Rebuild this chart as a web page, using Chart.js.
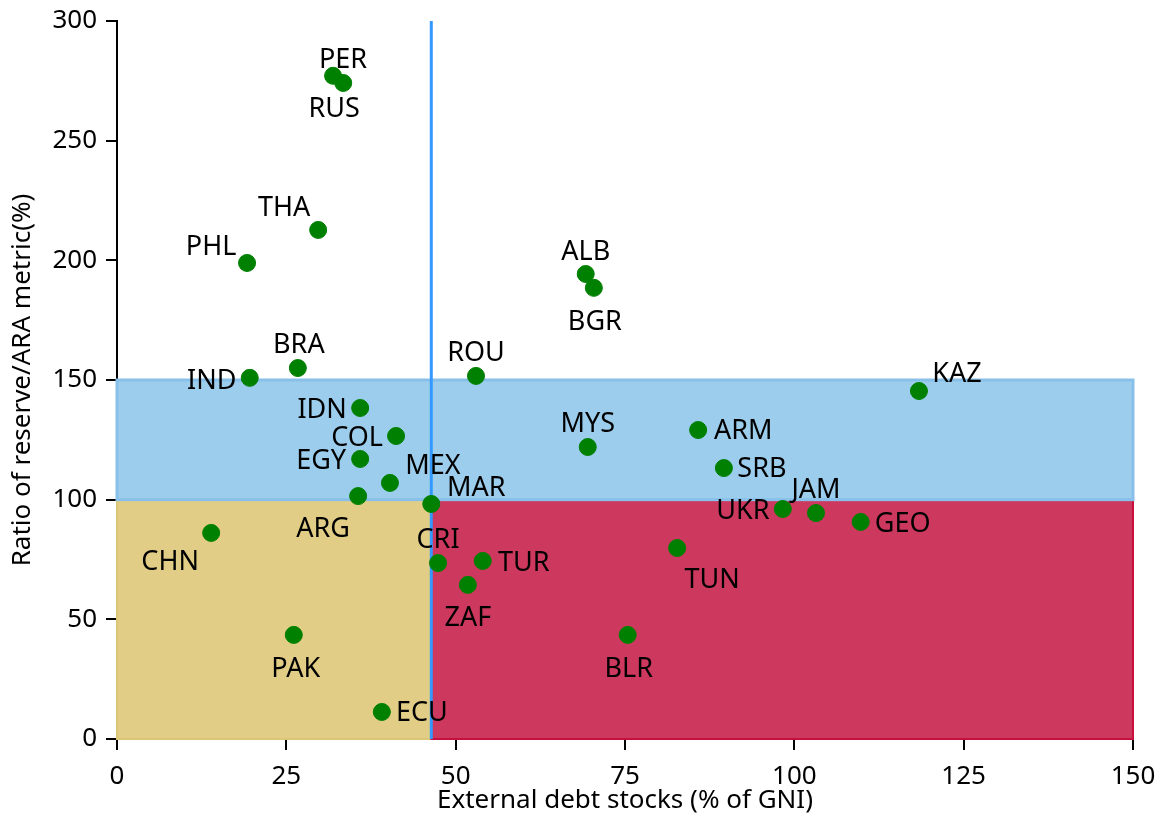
<!DOCTYPE html>
<html>
<head>
<meta charset="utf-8">
<script src="https://cdn.jsdelivr.net/npm/chart.js@4.4.0/dist/chart.umd.min.js"></script>
<style>
  html, body { margin: 0; padding: 0; background: #fff; }
  #wrap { width: 1164px; height: 816px; }
</style>
</head>
<body>
<div id="wrap"><canvas id="chart"></canvas></div>
<script>
const countries = ["PER","RUS","THA","PHL","ALB","BGR","BRA","IND","ROU","KAZ","IDN","COL","ARM","MYS","EGY","SRB","MEX","ARG","MAR","UKR","JAM","GEO","CHN","TUN","CRI","TUR","ZAF","PAK","BLR","ECU"];
const debtStocks = [31.9, 33.4, 29.7, 19.2, 69.2, 70.4, 26.7, 19.6, 53.0, 118.4, 35.9, 41.2, 85.8, 69.5, 35.9, 89.6, 40.3, 35.6, 46.4, 98.3, 103.2, 109.8, 13.9, 82.7, 47.4, 54.0, 51.8, 26.1, 75.4, 39.1];
const reserveRatio = [277.1, 274.1, 212.7, 198.9, 194.3, 188.5, 155.0, 150.9, 151.7, 145.4, 138.3, 126.6, 129.1, 122.0, 117.0, 113.2, 107.0, 101.5, 98.2, 96.1, 94.4, 90.7, 86.1, 79.8, 73.5, 74.4, 64.4, 43.5, 43.5, 11.3];

const debtThreshold = 46.4;
const lowBand = 100;
const highBand = 150;

// where each country label sits, in px from its point
const labelOffsets = {
  PER: [10, -15], RUS: [-9, 26], THA: [-34, -22], PHL: [-36, -16], ALB: [0, -22],
  BGR: [1, 34], BRA: [1, -23], IND: [-38, 3], ROU: [0, -23], KAZ: [38, -17],
  IDN: [-38, 2], COL: [-39, 2], ARM: [45, 1], MYS: [0, -23], EGY: [-39, 2],
  SRB: [38, 1], MEX: [43, -17], ARG: [-35, 33], MAR: [45, -16], UKR: [-40, 2],
  JAM: [0, -23], GEO: [42, 2], CHN: [-41, 29], TUN: [35, 32], CRI: [0, -23],
  TUR: [41, 2], ZAF: [0, 33], PAK: [2, 34], BLR: [1, 34], ECU: [40, 1]
};

const FONT = "'Noto Sans', 'Open Sans', sans-serif";

const zonesPlugin = {
  id: "zones",
  beforeDatasetsDraw(chart) {
    const { ctx, scales: { x, y } } = chart;
    const x0 = x.getPixelForValue(0), x1 = x.getPixelForValue(150), xt = x.getPixelForValue(debtThreshold);
    const y0 = y.getPixelForValue(0), yl = y.getPixelForValue(lowBand), yh = y.getPixelForValue(highBand);
    ctx.save();
    // yellow
    ctx.fillStyle = "#e1cd85";
    ctx.fillRect(x0, yl, xt - x0, y0 - yl);
    ctx.strokeStyle = "#dcc676";
    ctx.lineWidth = 2;
    ctx.strokeRect(x0, yl, xt - x0, y0 - yl);
    // red
    ctx.fillStyle = "#cc385e";
    ctx.fillRect(xt, yl, x1 - xt, y0 - yl);
    ctx.strokeStyle = "#c8103e";
    ctx.strokeRect(xt, yl, x1 - xt, y0 - yl);
    // blue
    ctx.fillStyle = "#9ccdec";
    ctx.fillRect(x0, yh, x1 - x0, yl - yh);
    ctx.strokeStyle = "#88c0ea";
    ctx.lineWidth = 3;
    ctx.strokeRect(x0, yh, x1 - x0, yl - yh);
    // threshold line
    ctx.strokeStyle = "#3399ff";
    ctx.lineWidth = 3;
    ctx.beginPath();
    ctx.moveTo(xt, y.getPixelForValue(300));
    ctx.lineTo(xt, y0);
    ctx.stroke();
    ctx.restore();
  }
};

const labelsPlugin = {
  id: "countryLabels",
  afterDatasetsDraw(chart) {
    const { ctx } = chart;
    const meta = chart.getDatasetMeta(0);
    ctx.save();
    ctx.font = "27px " + FONT;
    ctx.fillStyle = "#000";
    ctx.textAlign = "center";
    ctx.textBaseline = "middle";
    meta.data.forEach((pt, i) => {
      const off = labelOffsets[countries[i]] || [0, -22];
      ctx.fillText(countries[i], pt.x + off[0], pt.y + off[1]);
    });
    ctx.restore();
  }
};

const points = debtStocks.map((v, i) => ({ x: v, y: reserveRatio[i] }));

new Chart(document.getElementById("chart"), {
  type: "scatter",
  data: {
    datasets: [{
      data: points,
      backgroundColor: "#008000",
      borderColor: "#008000",
      pointRadius: 8.5,
      pointHoverRadius: 8.5
    }]
  },
  options: {
    responsive: true,
    maintainAspectRatio: false,
    animation: false,
    layout: { padding: { top: 21, right: 31, left: 0, bottom: 0 } },
    plugins: { legend: { display: false }, tooltip: { enabled: false } },
    scales: {
      x: {
        min: 0, max: 150,
        ticks: { stepSize: 25, color: "#000", font: { family: FONT, size: 26 }, padding: 11 },
        grid: { display: true, drawOnChartArea: false, drawTicks: true, tickLength: 11, color: "#000", lineWidth: 2 },
        border: { display: true, color: "#000", width: 2 },
        title: { display: true, text: "External debt stocks (% of GNI)", color: "#000", font: { family: FONT, size: 26 }, padding: { top: 0, bottom: 0 } },
        afterFit(scale) { scale.height = 77; scale.paddingLeft = 0; scale.paddingRight = 0; }
      },
      y: {
        min: 0, max: 300,
        ticks: { stepSize: 50, color: "#000", font: { family: FONT, size: 26 }, padding: 9 },
        grid: { display: true, drawOnChartArea: false, drawTicks: true, tickLength: 11, color: "#000", lineWidth: 2 },
        border: { display: true, color: "#000", width: 2 },
        title: { display: true, text: "Ratio of reserve/ARA metric(%)", color: "#000", font: { family: FONT, size: 26 }, padding: { top: 7, bottom: 0 } },
        afterFit(scale) { scale.width = 117; scale.paddingTop = 0; scale.paddingBottom = 0; }
      }
    }
  },
  plugins: [zonesPlugin, labelsPlugin]
});
</script>
</body>
</html>
